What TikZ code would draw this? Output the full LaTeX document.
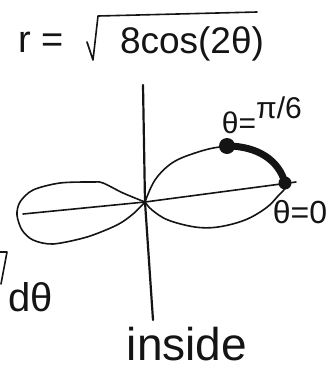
\documentclass[tikz,border=0pt]{standalone}
\usepackage{fontspec}
\setmainfont{Liberation Sans}
\usepackage{tikz}
\usetikzlibrary{positioning, calc}
\definecolor{ink}{RGB}{20,20,20}

\begin{document}
\begin{tikzpicture}[x=1pt, y=-1pt,
  curve/.style={draw=ink, line width=1.6pt, line join=round, line cap=round},
  axis/.style={draw=ink, line width=2.2pt, line cap=round},
  arcpath/.style={draw=ink, line width=7pt, line cap=round},
  lbl/.style={inner sep=0pt, text=ink},
  dotmark/.style={circle, fill=ink, inner sep=0pt, minimum size=#1}
]
\useasboundingbox (0,0) rectangle (335,370);
% formula
\node[lbl, anchor=base, font=\fontsize{38}{40}\selectfont] (lhs) at (41,52) {r =};
\node[lbl, anchor=base, font=\fontsize{37}{40}\selectfont] (rhs) at (192,53) {8cos(2θ)};
\draw[curve] (87,42) -- (93,60) -- (98,16) -- (257,12);
% axes
\coordinate (yt) at (143,85);
\coordinate (yb) at (153,320);
\coordinate (xl) at (23,214);
\coordinate (xr) at (296,182);
\coordinate (o) at (145,202);
\draw[axis] (yt) -- (o) -- (yb);
\draw[curve] (xl) -- (o) -- (xr);
% lobes
\draw[curve] plot[smooth, tension=0.6] coordinates {(145,202) (155,180) (172,163) (195,153) (220,147) (245,148) (268,160) (282,176) (287,185) (278,196) (266,208) (245,220) (218,227) (195,227) (168,220) (152,210) (145,202)};
\draw[curve] plot[smooth, tension=0.5] coordinates {(145,202) (123,193) (103,183) (93,182) (60,183) (33,190) (20,202) (17,215) (22,230) (33,240) (53,244) (87,237) (117,225) (133,214) (145,202)};
% arc from theta=pi/6 to theta=0
\node[dotmark=16pt] (top) at (227,146) {};
\node[dotmark=13pt] (tip) at (285,183) {};
\draw[arcpath] (top.center) .. controls (257,146) and (279,160) .. (tip.center);
% labels
\node[lbl, anchor=base, font=\fontsize{30}{32}\selectfont] (theq) at (239,133) {θ=};
\node[lbl, anchor=base west, font=\fontsize{30}{32}\selectfont] (pi6) at (256,118) {π/6};
\node[lbl, anchor=base, font=\fontsize{32}{35}\selectfont] (zero) at (300,223) {θ=0};
\node[lbl, anchor=base, font=\fontsize{40}{44}\selectfont] (dth) at (31,311) {dθ};
\draw[curve] (0,252) -- (7,252) -- (1,284);
\node[lbl, anchor=base, font=\fontsize{46}{50}\selectfont] (inside) at (187,360) {inside};
\end{tikzpicture}
\end{document}
